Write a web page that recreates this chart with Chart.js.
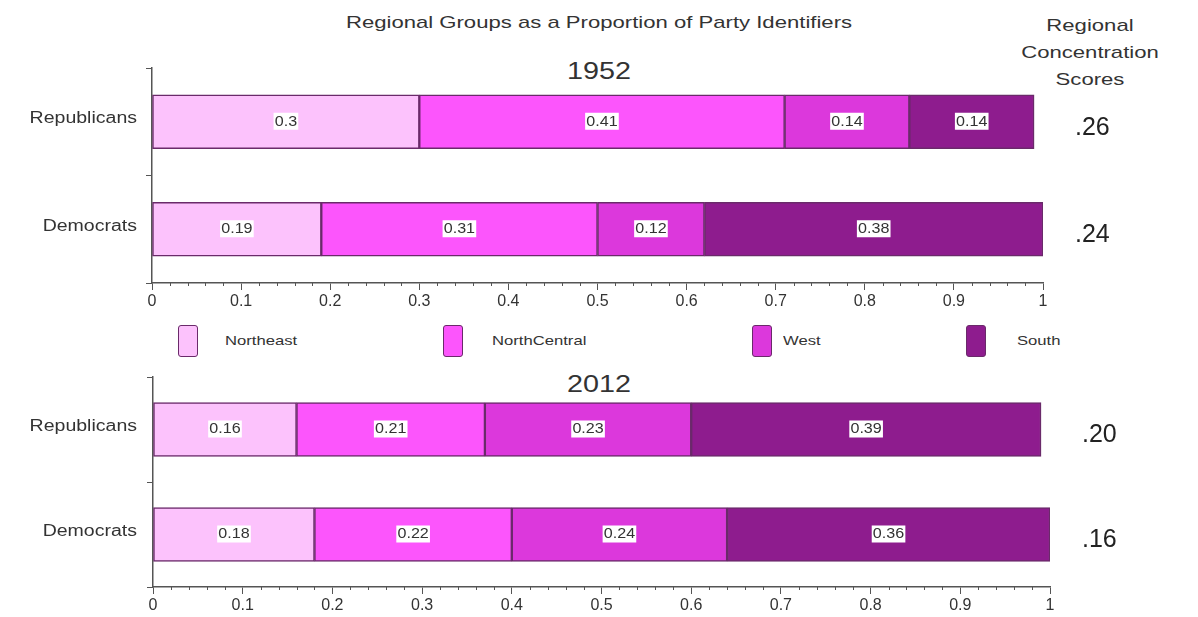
<!DOCTYPE html>
<html>
<head>
<meta charset="utf-8">
<script src="https://cdn.jsdelivr.net/npm/chart.js@4.4.1/dist/chart.umd.min.js"></script>
<style>
  body { margin: 0; background: #fff; font-family: "Liberation Sans", Arial, sans-serif; color: #333; }
  #page { position: relative; width: 1198px; height: 617px; overflow: hidden; }
  .txt { position: absolute; white-space: nowrap; }
  .wide { transform: scaleX(1.3); transform-origin: center; }
  .canvasWrap { position: absolute; left: 0; width: 1198px; }
  .lgBox { position: absolute; width: 18px; height: 30px; border: 1.5px solid #6a2a6a; border-radius: 3px; }
  .lgLabel { position: absolute; font-size: 13px; color: #333; transform: scaleX(1.28); transform-origin: left; }
</style>
</head>
<body>
<div id="page">
  <div class="txt wide" style="left:0;width:1198px;top:13px;text-align:center;font-size:17px;">Regional Groups as a Proportion of Party Identifiers</div>
  <div class="txt wide" style="left:1010px;width:160px;top:12px;text-align:center;font-size:17px;line-height:27px;white-space:normal;">Regional<br>Concentration<br>Scores</div>
  <div class="txt" style="left:0;width:1198px;top:58px;text-align:center;font-size:23px;transform:scaleX(1.25);">1952</div>
  <div class="txt" style="left:0;width:1198px;top:371px;text-align:center;font-size:23px;transform:scaleX(1.25);">2012</div>
  <div class="canvasWrap" style="top:55px;height:258px;"><canvas id="c1952"></canvas></div>
  <div class="canvasWrap" style="top:364px;height:253px;"><canvas id="c2012"></canvas></div>
  <div id="legend"></div>
</div>
<script>
// categories and series
const parties = ['Republicans', 'Democrats'];
const regions = ['Northeast', 'NorthCentral', 'West', 'South'];
const regionColors = ['#fcc2fc', '#fc55fc', '#dc38dc', '#8e1c8e'];

// share of each party's identifiers by region: [Republicans, Democrats]
const northeast1952 = [0.30, 0.19];
const northCentral1952 = [0.41, 0.31];
const west1952 = [0.14, 0.12];
const south1952 = [0.14, 0.38];

const northeast2012 = [0.16, 0.18];
const northCentral2012 = [0.21, 0.22];
const west2012 = [0.23, 0.24];
const south2012 = [0.39, 0.36];

// regional concentration scores: [Republicans, Democrats]
const scores1952 = ['.26', '.24'];
const scores2012 = ['.20', '.16'];

// legend positions (box left, label left)
const legendX = [[178, 225], [443, 492], [752, 783], [966, 1017]];

const FONT = '"Liberation Sans", Arial, sans-serif';

const legendEl = document.getElementById('legend');
regions.forEach((r, i) => {
    const box = document.createElement('div');
    box.className = 'lgBox';
    box.style.left = legendX[i][0] + 'px';
    box.style.top = '325px';
    box.style.background = regionColors[i];
    legendEl.appendChild(box);
    const lab = document.createElement('div');
    lab.className = 'lgLabel';
    lab.style.left = legendX[i][1] + 'px';
    lab.style.top = '333px';
    lab.textContent = r;
    legendEl.appendChild(lab);
});

// value labels in white boxes, centered on each segment
const segmentLabels = {
    id: 'segmentLabels',
    afterDatasetsDraw(chart) {
        const ctx = chart.ctx;
        ctx.save();
        ctx.font = '14px ' + FONT;
        ctx.textAlign = 'center';
        ctx.textBaseline = 'middle';
        chart.data.datasets.forEach((ds, di) => {
            chart.getDatasetMeta(di).data.forEach((el, i) => {
                const txt = String(ds.data[i]);
                const cx = (el.x + el.base) / 2;
                const w = (ctx.measureText(txt).width + 2) * 1.15;
                ctx.fillStyle = '#fff';
                ctx.fillRect(cx - w / 2, el.y - 9, w, 17);
                ctx.save();
                ctx.translate(cx, el.y);
                ctx.scale(1.15, 1);
                ctx.fillStyle = '#333';
                ctx.fillText(txt, 0, 0);
                ctx.restore();
            });
        });
        ctx.restore();
    }
};

// party names, scores to the right of each bar, minor ticks on the x axis
const extras = {
    id: 'extras',
    afterDraw(chart, args, opts) {
        const ctx = chart.ctx;
        const xs = chart.scales.x, ys = chart.scales.y;
        ctx.save();
        ctx.strokeStyle = '#555';
        ctx.lineWidth = 1;
        for (let k = 1; k < 50; k++) {
            if (k % 5 === 0) continue;
            const px = Math.round(xs.getPixelForValue(k / 50)) + 0.5;
            ctx.beginPath();
            ctx.moveTo(px, xs.top);
            ctx.lineTo(px, xs.top + 3);
            ctx.stroke();
        }
        ctx.textBaseline = 'middle';
        ctx.font = '16px ' + FONT;
        ctx.fillStyle = '#333';
        ctx.textAlign = 'right';
        chart.data.labels.forEach((lab, i) => {
            ctx.save();
            ctx.translate(137, ys.getPixelForValue(i) - 3);
            ctx.scale(1.22, 1);
            ctx.fillText(lab, 0, 0);
            ctx.restore();
        });
        ctx.font = '25px ' + FONT;
        ctx.fillStyle = '#222';
        ctx.textAlign = 'left';
        opts.scores.forEach((s, i) => {
            ctx.fillText(s, chart.chartArea.right + opts.gap, ys.getPixelForValue(i) + 6);
        });
        ctx.restore();
    }
};

function makeChart(id, series, scores, leftW, rightPad) {
    return new Chart(document.getElementById(id), {
        type: 'bar',
        data: {
            labels: parties,
            datasets: regions.map((r, i) => ({
                label: r,
                data: series[i],
                backgroundColor: regionColors[i],
                borderColor: '#6a2a6a',
                borderWidth: 1.5,
                borderSkipped: false,
                barThickness: 54
            }))
        },
        options: {
            indexAxis: 'y',
            responsive: true,
            maintainAspectRatio: false,
            animation: false,
            layout: { padding: { left: 0, right: rightPad, top: 13, bottom: 0 } },
            plugins: {
                legend: { display: false },
                tooltip: { enabled: false },
                extras: { scores: scores, gap: 32 }
            },
            scales: {
                x: {
                    stacked: true,
                    min: 0,
                    max: 1,
                    ticks: {
                        stepSize: 0.1,
                        color: '#333',
                        font: { size: 16, family: FONT },
                        padding: 2,
                        callback: v => String(Math.round(v * 10) / 10)
                    },
                    grid: { drawOnChartArea: false, tickLength: 7, color: '#555' },
                    border: { color: '#555', width: 1.5 },
                    afterFit(s) { s.height = 30; }
                },
                y: {
                    stacked: true,
                    ticks: { display: false },
                    grid: { offset: true, drawOnChartArea: false, tickLength: 6, color: '#555' },
                    border: { color: '#555', width: 1.5 },
                    afterFit(s) { s.width = leftW; }
                }
            }
        },
        plugins: [segmentLabels, extras]
    });
}

makeChart('c1952', [northeast1952, northCentral1952, west1952, south1952], scores1952, 152, 155);
makeChart('c2012', [northeast2012, northCentral2012, west2012, south2012], scores2012, 153, 148);
</script>
</body>
</html>
